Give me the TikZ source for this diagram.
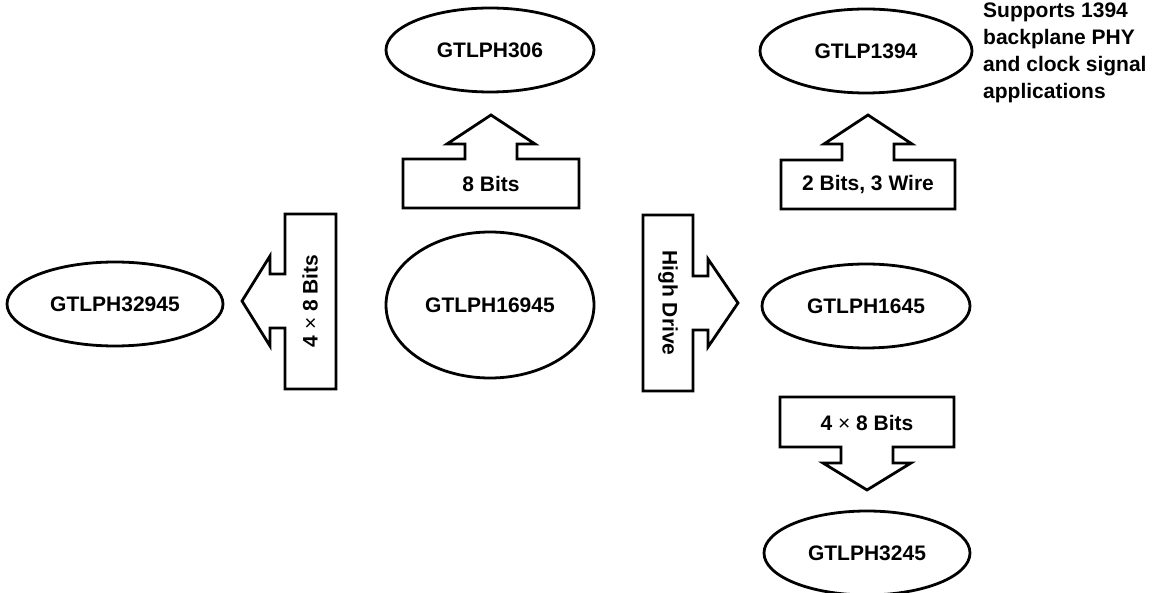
\documentclass[tikz,border=0pt]{standalone}
\usepackage{fontspec}
\setmainfont{Liberation Sans}
\usetikzlibrary{shapes.geometric}
\newcommand{\gtlpTimes}{{\mdseries ×}}
\tikzset{
  gtlpChip/.style={draw, ellipse, line width=2.8pt, minimum width=208pt, minimum height=84pt, inner sep=0pt, font={\bfseries\fontsize{21}{27}\selectfont}},
  gtlpArrow/.style={draw, line width=2.8pt, line join=miter},
  gtlpLabel/.style={inner sep=0pt, font={\bfseries\fontsize{21}{27}\selectfont}},
}

\begin{document}
\begin{tikzpicture}[x=1pt,y=-1pt]
\useasboundingbox (0,0) rectangle (1163,593);
\node[gtlpChip] (ph306) at (490,50) {GTLPH306};
\node[gtlpChip, minimum width=212pt] (p1394) at (866,51) {GTLP1394};
\node[gtlpChip, minimum width=216pt] (ph32945) at (115,304) {GTLPH32945};
\node[gtlpChip, minimum height=146pt] (ph16945) at (490,305) {GTLPH16945};
\node[gtlpChip] (ph1645) at (866,306) {GTLPH1645};
\node[gtlpChip, minimum width=206pt] (ph3245) at (867,553) {GTLPH3245};
\node[gtlpLabel, anchor=north west, align=left] (note1394) at (983,3) {Supports 1394\\backplane PHY\\and clock signal\\applications};
\draw[gtlpArrow] (403,208) -- (579,208) -- (579,159) -- (517,159) -- (517,144) -- (535,144) -- (491,115) -- (447,144) -- (465,144) -- (465,159) -- (403,159) -- cycle;
\node[gtlpLabel] (bits8) at (491,184) {8 Bits};
\draw[gtlpArrow] (781,209) -- (955,209) -- (955,160) -- (894,160) -- (894,144) -- (912,144) -- (868,115) -- (824,144) -- (842,144) -- (842,160) -- (781,160) -- cycle;
\node[gtlpLabel] (bits2) at (868,185) {2 Bits, 3 Wire};
\draw[gtlpArrow] (336,214) -- (336,389) -- (285,389) -- (285,328) -- (270,328) -- (270,346) -- (242,301) -- (270,256) -- (270,274) -- (285,274) -- (285,214) -- cycle;
\node[gtlpLabel, rotate=90] (wide32) at (310,301) {4 \gtlpTimes{} 8 Bits};
\draw[gtlpArrow] (643,215) -- (643,391) -- (693,391) -- (693,330) -- (708,330) -- (708,347) -- (738,303) -- (708,259) -- (708,276) -- (693,276) -- (693,215) -- cycle;
\node[gtlpLabel, rotate=-90] (drive) at (668,303) {High Drive};
\draw[gtlpArrow] (780,397) -- (954,397) -- (954,447) -- (893,447) -- (893,463) -- (911,463) -- (867,490) -- (823,463) -- (841,463) -- (841,447) -- (780,447) -- cycle;
\node[gtlpLabel] (bits32) at (867,423) {4 \gtlpTimes{} 8 Bits};
\end{tikzpicture}
\end{document}
